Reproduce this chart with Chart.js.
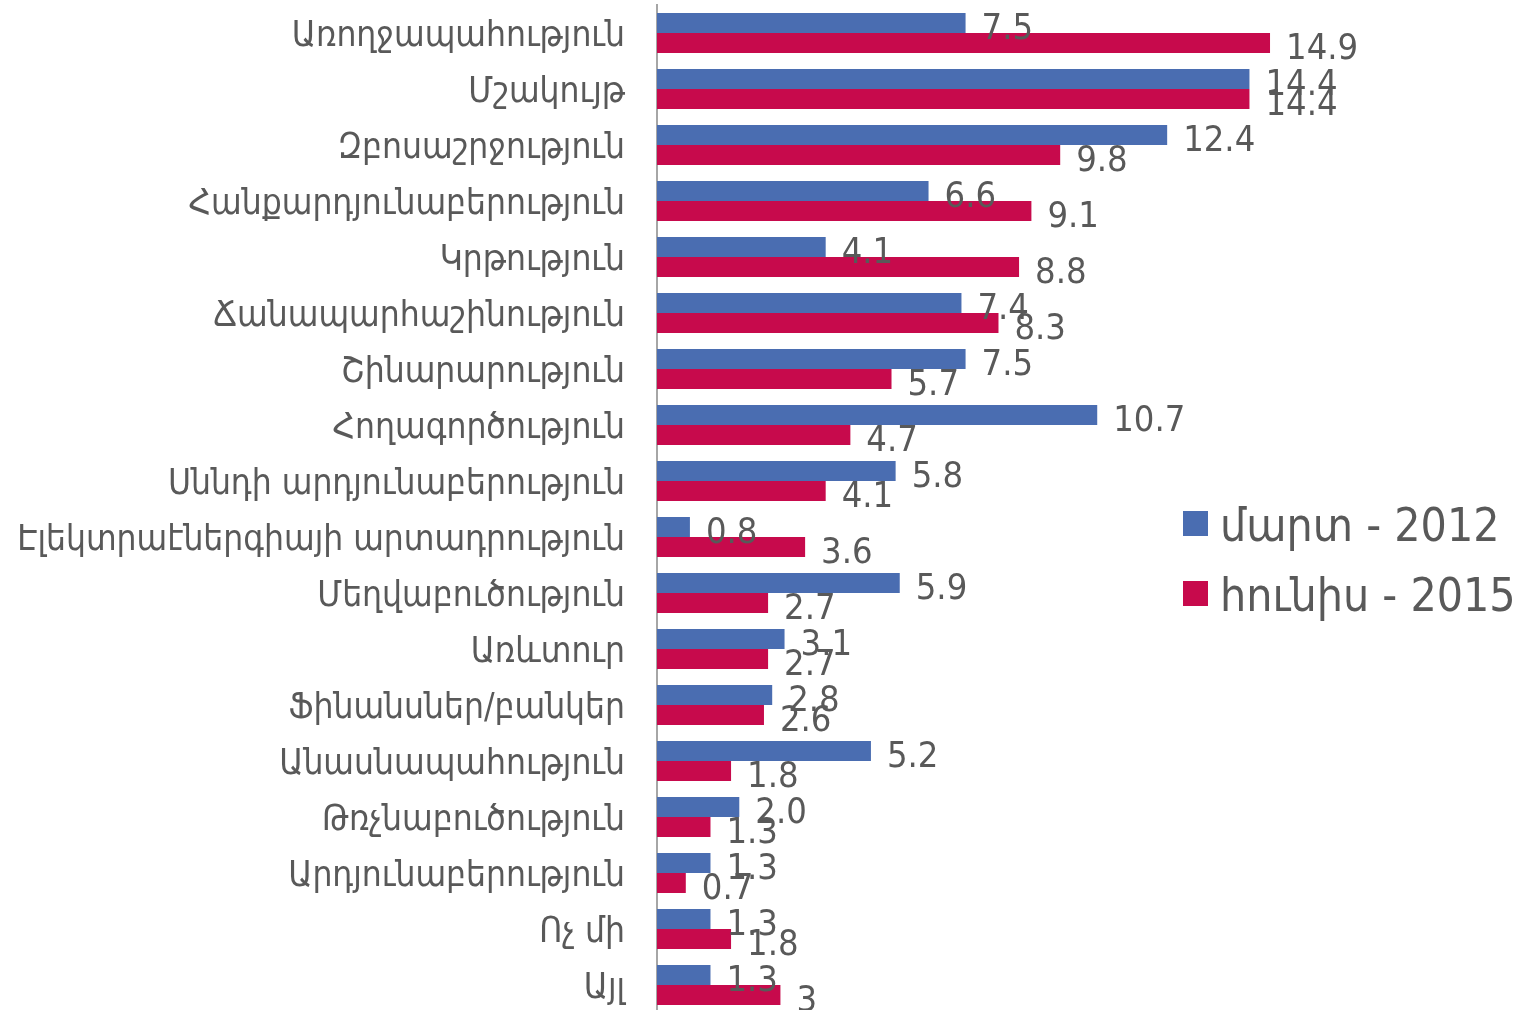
<!DOCTYPE html>
<html>
<head>
<meta charset="utf-8">
<script src="https://cdn.jsdelivr.net/npm/chart.js@4.4.1/dist/chart.umd.min.js"></script>
<style>
  html, body { margin: 0; padding: 0; background: #fff; overflow: hidden; }
  #wrap { position: relative; width: 1532px; height: 1013px; }
</style>
</head>
<body>
<div id="wrap"><canvas id="chart"></canvas></div>
<script>
const categories = [
  "Առողջապահություն",
  "Մշակույթ",
  "Զբոսաշրջություն",
  "Հանքարդյունաբերություն",
  "Կրթություն",
  "Ճանապարհաշինություն",
  "Շինարարություն",
  "Հողագործություն",
  "Սննդի արդյունաբերություն",
  "Էլեկտրաէներգիայի արտադրություն",
  "Մեղվաբուծություն",
  "Առևտուր",
  "Ֆինանսներ/բանկեր",
  "Անասնապահություն",
  "Թռչնաբուծություն",
  "Արդյունաբերություն",
  "Ոչ մի",
  "Այլ"
];
const seriesNames = ["մարտ - 2012", "հունիս - 2015"];
const march2012 = [7.5, 14.4, 12.4, 6.6, 4.1, 7.4, 7.5, 10.7, 5.8, 0.8, 5.9, 3.1, 2.8, 5.2, 2.0, 1.3, 1.3, 1.3];
const june2015 = [14.9, 14.4, 9.8, 9.1, 8.8, 8.3, 5.7, 4.7, 4.1, 3.6, 2.7, 2.7, 2.6, 1.8, 1.3, 0.7, 1.8, 3];

const BLUE = "#4a6db1";
const RED = "#c70a4c";
const TEXT = "#595959";
const FONT = '"Liberation Sans Narrow", "DejaVu Sans Condensed", "DejaVu Sans", sans-serif';
const ARM_FONT = '"DejaVu Sans Condensed", "DejaVu Sans", sans-serif';

// value labels next to bar ends (no datalabels plugin available offline)
const valueLabels = {
  id: "valueLabels",
  afterDatasetsDraw(chart) {
    const ctx = chart.ctx;
    ctx.save();
    ctx.fillStyle = TEXT;
    ctx.font = "36px " + FONT;
    ctx.textAlign = "left";
    ctx.textBaseline = "middle";
    chart.data.datasets.forEach((ds, i) => {
      const meta = chart.getDatasetMeta(i);
      meta.data.forEach((bar, j) => {
        const v = ds.data[j];
        const txt = i === 0 ? v.toFixed(1) : String(v);
        ctx.fillText(txt, bar.x + 16, bar.y + 7);
      });
    });
    ctx.restore();
  }
};

const sideLegend = {
  id: "sideLegend",
  afterDraw(chart) {
    const ctx = chart.ctx;
    ctx.save();
    ctx.font = "46px " + ARM_FONT;
    ctx.textBaseline = "middle";
    ctx.textAlign = "left";
    chart.data.datasets.forEach((ds, i) => {
      const y = 523 + i * 70;
      ctx.fillStyle = ds.backgroundColor;
      ctx.fillRect(1183, y - 12, 25, 25);
      ctx.fillStyle = TEXT;
      ctx.fillText(ds.label, 1220, y + 6);
    });
    ctx.restore();
  }
};

new Chart(document.getElementById("chart"), {
  type: "bar",
  data: {
    labels: categories,
    datasets: [
      { label: seriesNames[0], data: march2012, backgroundColor: BLUE },
      { label: seriesNames[1], data: june2015, backgroundColor: RED }
    ]
  },
  options: {
    indexAxis: "y",
    responsive: true,
    maintainAspectRatio: false,
    animation: false,
    layout: { padding: { top: 5, right: 11, bottom: 0, left: 0 } },
    barPercentage: 1,
    categoryPercentage: 0.714,
    plugins: {
      legend: { display: false },
      tooltip: { enabled: false }
    },
    scales: {
      x: {
        display: false,
        min: 0,
        max: 21
      },
      y: {
        grid: { display: false, drawTicks: false },
        border: { display: true, color: "#a6a6a6", width: 2 },
        ticks: {
          color: TEXT,
          font: { family: ARM_FONT, size: 35 },
          padding: 32,
          labelOffset: 4
        },
        afterFit(scale) {
          scale.width = 657;
          scale.paddingTop = 0;
          scale.paddingBottom = 0;
        }
      }
    }
  },
  plugins: [valueLabels, sideLegend]
});
</script>
</body>
</html>
